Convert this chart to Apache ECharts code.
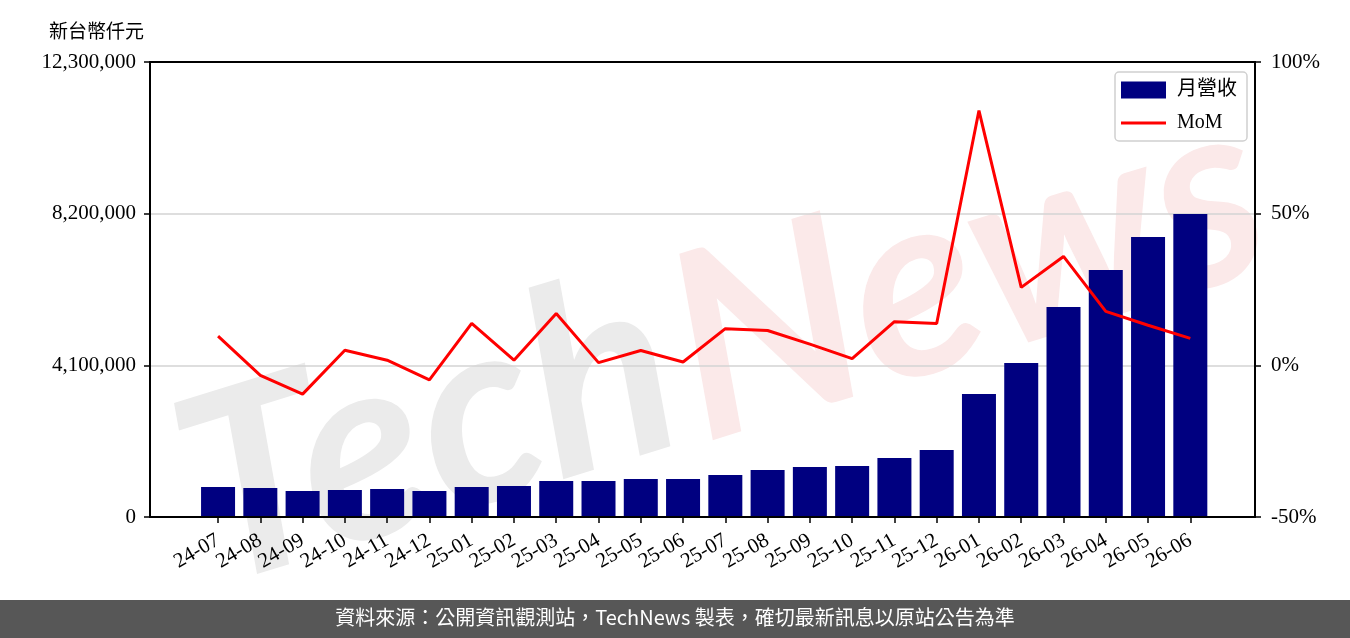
<!DOCTYPE html>
<html>

<head>
  <meta charset="utf-8">
  <title>月營收</title>
  <script src="https://cdn.jsdelivr.net/npm/echarts@6/dist/echarts.min.js"></script>
  <style>
    body { margin: 0; background: #fff; }
  </style>
</head>

<body>
  <div id="main" style="width: 1350px;height:638px;"></div>
  <script type="text/javascript">
    // 月份
    var months = ['24-07', '24-08', '24-09', '24-10', '24-11', '24-12',
      '25-01', '25-02', '25-03', '25-04', '25-05', '25-06',
      '25-07', '25-08', '25-09', '25-10', '25-11', '25-12',
      '26-01', '26-02', '26-03', '26-04', '26-05', '26-06'];
    // 月營收 (新台幣仟元)
    var revenue = [811000, 784000, 703000, 730000, 757000, 703000,
      811000, 838000, 973000, 973000, 1027000, 1027000,
      1135000, 1271000, 1352000, 1379000, 1595000, 1811000,
      3325000, 4163000, 5677000, 6677000, 7569000, 8191000];
    // MoM (%)
    var mom = [9.6, -3.3, -9.5, 5.0, 1.7, -4.8,
      13.8, 1.7, 17.1, 0.9, 4.9, 1.1,
      12.1, 11.5, 7.0, 2.2, 14.4, 13.8,
      84.0, 25.7, 35.9, 17.8, 13.2, 8.9];

    var myChart = echarts.init(document.getElementById('main'));

    var serif = "'Liberation Serif', 'Noto Sans CJK TC', serif";
    var tickIdx = months.map(function (m, i) { return i; });
    // 圖例的線條圖示 (角落的小點只是撐開外框)
    var lineIcon = 'path://M0,0L0.01,0L0,0.01Z M0,7L45,7L45,10L0,10Z M45,17L44.99,17L45,16.99Z';

    var option = {
      animation: false,
      backgroundColor: '#fff',
      title: {
        text: '新台幣仟元',
        left: 44,
        top: 16,
        textStyle: { fontFamily: "'Noto Sans CJK TC', sans-serif", fontSize: 19, fontWeight: 'normal', color: '#000' }
      },
      graphic: [
        {
          type: 'text', z: 0, left: 150, top: 235, rotation: 0.3,
          style: { text: 'Tech', fontSize: 260, fontStyle: 'italic', fontWeight: 'bold', fontFamily: 'Lato, sans-serif', fill: '#ebebeb' }
        },
        {
          type: 'text', z: 0, left: 640, top: 60, rotation: 0.3,
          style: { text: 'News', fontSize: 260, fontStyle: 'italic', fontWeight: 'bold', fontFamily: 'Lato, sans-serif', fill: '#fbe9e9' }
        },
        {
          type: 'rect', z: 10, left: 0, top: 600,
          shape: { width: 1350, height: 38 },
          style: { fill: '#575757' }
        },
        {
          type: 'text', z: 11, left: 'center', top: 607,
          style: { text: '資料來源：公開資訊觀測站，TechNews 製表，確切最新訊息以原站公告為準', fontSize: 20, fontFamily: "'Noto Sans CJK TC', sans-serif", fill: '#fff' }
        }
      ],
      legend: {
        orient: 'vertical',
        right: 103,
        top: 72,
        itemWidth: 45,
        itemHeight: 17,
        itemGap: 13,
        padding: [8, 10, 8, 6],
        borderColor: '#d0d0d0',
        borderWidth: 1.5,
        borderRadius: 4,
        backgroundColor: 'rgba(255,255,255,0.8)',
        textStyle: { fontFamily: serif, fontSize: 20, color: '#000', padding: [0, 0, 0, 6] },
        data: [{ name: '月營收', icon: 'rect' }, { name: 'MoM', icon: lineIcon }]
      },
      grid: {
        left: 150,
        right: 95,
        top: 62,
        bottom: 121,
        show: true,
        borderColor: '#000',
        borderWidth: 2,
        z: 3
      },
      xAxis: {
        type: 'value',
        min: -1.61,
        max: 24.53,
        axisLine: { show: true, onZero: false, lineStyle: { color: '#000', width: 2 } },
        splitLine: { show: false },
        axisTick: { show: true, customValues: tickIdx, length: 6, lineStyle: { color: '#000', width: 1.5 } },
        axisLabel: {
          customValues: tickIdx,
          hideOverlap: false,
          rotate: 30,
          margin: 22,
          fontFamily: serif,
          fontSize: 21,
          color: '#000',
          formatter: function (v) { return months[Math.round(v)]; }
        }
      },
      yAxis: [
        {
          type: 'value',
          min: 0,
          max: 12300000,
          interval: 4100000,
          axisLine: { show: true, onZero: false, lineStyle: { color: '#000', width: 2 } },
          axisTick: { show: true, length: 6, lineStyle: { color: '#000', width: 1.5 } },
          splitLine: { show: true, lineStyle: { color: '#d3d3d3', width: 1.5 } },
          axisLabel: {
            fontFamily: serif, fontSize: 21, color: '#000', margin: 14,
            formatter: function (v) { return v.toLocaleString('en-US'); }
          }
        },
        {
          type: 'value',
          min: -50,
          max: 100,
          interval: 50,
          position: 'right',
          axisLine: { show: true, onZero: false, lineStyle: { color: '#000', width: 2 } },
          axisTick: { show: true, length: 6, lineStyle: { color: '#000', width: 1.5 } },
          splitLine: { show: false },
          axisLabel: {
            fontFamily: serif, fontSize: 21, color: '#000', margin: 16,
            formatter: function (v) { return v + '%'; }
          }
        }
      ],
      series: [
        {
          name: '月營收',
          type: 'bar',
          barWidth: 34,
          itemStyle: { color: '#000080' },
          data: revenue.map(function (v, i) { return [i, v]; }),
          z: 2
        },
        {
          name: 'MoM',
          type: 'line',
          yAxisIndex: 1,
          symbol: 'none',
          lineStyle: { color: '#ff0000', width: 3 },
          itemStyle: { color: '#ff0000' },
          data: mom.map(function (v, i) { return [i, v]; }),
          z: 4
        }
      ]
    };

    myChart.setOption(option);
  </script>
</body>

</html>
